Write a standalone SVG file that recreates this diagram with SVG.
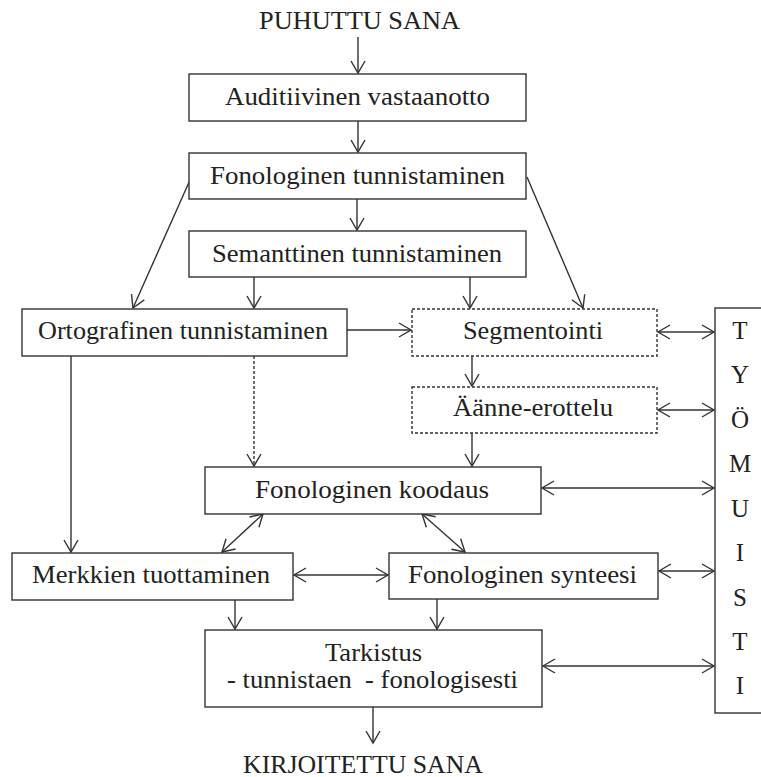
<svg xmlns="http://www.w3.org/2000/svg" width="761" height="777" viewBox="0 0 761 777">
  <style>
    .box { fill: #ffffff; stroke: #333333; stroke-width: 1.4; }
    .dash { stroke-dasharray: 3 2; }
    .lbl { font-family: "Liberation Serif", "Times New Roman", serif; font-size: 25px; fill: #222222; }
    .mid { text-anchor: middle; }
    .edge { fill: none; stroke: #333333; stroke-width: 1.4; }
    .one { marker-end: url(#head); }
    .two { marker-start: url(#head); marker-end: url(#head); }
  </style>
  <defs>
    <marker id="head" viewBox="-14 -9 16 18" markerWidth="16" markerHeight="18" refX="0" refY="0" markerUnits="userSpaceOnUse" orient="auto-start-reverse">
      <path d="M-12,-7 L0,0 L-12,7" fill="none" stroke="#333333" stroke-width="1.4"/>
    </marker>
  </defs>
  <rect width="761" height="777" fill="#ffffff"/>

  <!-- connectors -->
  <g id="connectors">
    <line class="edge one" x1="358" y1="37" x2="358" y2="73"/>
    <line class="edge one" x1="358" y1="121" x2="358" y2="152"/>
    <line class="edge one" x1="357" y1="199" x2="357" y2="230"/>
    <line class="edge one" x1="190" y1="180" x2="133" y2="308"/>
    <line class="edge one" x1="527" y1="177" x2="583" y2="308"/>
    <line class="edge one" x1="254" y1="277" x2="254" y2="308"/>
    <line class="edge one" x1="470" y1="277" x2="470" y2="308"/>
    <line class="edge one" x1="347" y1="330" x2="411" y2="330"/>
    <line class="edge two" x1="658" y1="332" x2="714" y2="332"/>
    <line class="edge one" x1="472" y1="356" x2="472" y2="386"/>
    <line class="edge two" x1="658" y1="410" x2="714" y2="410"/>
    <line class="edge one" x1="472" y1="433" x2="472" y2="466"/>
    <line class="edge one dash" x1="254" y1="356" x2="254" y2="466"/>
    <line class="edge one" x1="71" y1="356" x2="71" y2="552"/>
    <line class="edge two" x1="542" y1="488" x2="714" y2="488"/>
    <line class="edge two" x1="263" y1="514" x2="222" y2="552"/>
    <line class="edge two" x1="422" y1="514" x2="465" y2="552"/>
    <line class="edge two" x1="294" y1="575" x2="388" y2="575"/>
    <line class="edge two" x1="659" y1="571" x2="714" y2="571"/>
    <line class="edge one" x1="235" y1="600" x2="235" y2="629"/>
    <line class="edge one" x1="437" y1="599" x2="437" y2="629"/>
    <line class="edge two" x1="543" y1="666" x2="714" y2="666"/>
    <line class="edge one" x1="373" y1="707" x2="373" y2="743"/>
  </g>

  <g id="puhuttu-sana">
    <text class="lbl" x="259" y="29" textLength="201" lengthAdjust="spacingAndGlyphs">PUHUTTU SANA</text>
  </g>

  <g id="auditiivinen">
    <rect class="box" x="189" y="74" width="337" height="47"/>
    <text class="lbl" x="225" y="105" textLength="265" lengthAdjust="spacingAndGlyphs">Auditiivinen vastaanotto</text>
  </g>

  <g id="fonologinen-tunnistaminen">
    <rect class="box" x="189" y="153" width="337" height="46"/>
    <text class="lbl" x="210" y="184" textLength="295" lengthAdjust="spacingAndGlyphs">Fonologinen tunnistaminen</text>
  </g>

  <g id="semanttinen">
    <rect class="box" x="189" y="231" width="337" height="46"/>
    <text class="lbl" x="212" y="262" textLength="290" lengthAdjust="spacingAndGlyphs">Semanttinen tunnistaminen</text>
  </g>

  <g id="ortografinen">
    <rect class="box" x="22" y="309" width="325" height="47"/>
    <text class="lbl" x="38" y="339" textLength="290" lengthAdjust="spacingAndGlyphs">Ortografinen tunnistaminen</text>
  </g>

  <g id="segmentointi">
    <rect class="box dash" x="412" y="309" width="245" height="47"/>
    <text class="lbl" x="463" y="339" textLength="140" lengthAdjust="spacingAndGlyphs">Segmentointi</text>
  </g>

  <g id="aanne-erottelu">
    <rect class="box dash" x="412" y="387" width="245" height="46"/>
    <text class="lbl" x="453" y="416" textLength="160" lengthAdjust="spacingAndGlyphs">Äänne-erottelu</text>
  </g>

  <g id="fonologinen-koodaus">
    <rect class="box" x="205" y="467" width="336" height="47"/>
    <text class="lbl" x="255" y="498" textLength="234" lengthAdjust="spacingAndGlyphs">Fonologinen koodaus</text>
  </g>

  <g id="merkkien-tuottaminen">
    <rect class="box" x="12" y="553" width="281" height="47"/>
    <text class="lbl" x="32" y="583" textLength="238" lengthAdjust="spacingAndGlyphs">Merkkien tuottaminen</text>
  </g>

  <g id="fonologinen-synteesi">
    <rect class="box" x="389" y="553" width="269" height="46"/>
    <text class="lbl" x="408" y="583" textLength="229" lengthAdjust="spacingAndGlyphs">Fonologinen synteesi</text>
  </g>

  <g id="tarkistus">
    <rect class="box" x="205" y="630" width="337" height="77"/>
    <text class="lbl" x="325" y="661" textLength="97" lengthAdjust="spacingAndGlyphs">Tarkistus</text>
    <text class="lbl" x="227" y="688" textLength="291" lengthAdjust="spacingAndGlyphs" xml:space="preserve">- tunnistaen  - fonologisesti</text>
  </g>

  <g id="tyomuisti">
    <rect class="box" x="715" y="308" width="60" height="405"/>
    <text class="lbl mid" x="740" y="339">T</text>
    <text class="lbl mid" x="740" y="383">Y</text>
    <text class="lbl mid" x="740" y="428">Ö</text>
    <text class="lbl mid" x="740" y="472">M</text>
    <text class="lbl mid" x="740" y="517">U</text>
    <text class="lbl mid" x="740" y="561">I</text>
    <text class="lbl mid" x="740" y="606">S</text>
    <text class="lbl mid" x="740" y="650">T</text>
    <text class="lbl mid" x="740" y="694">I</text>
  </g>

  <g id="kirjoitettu-sana">
    <text class="lbl" x="243" y="773" textLength="240" lengthAdjust="spacingAndGlyphs">KIRJOITETTU SANA</text>
  </g>
</svg>
